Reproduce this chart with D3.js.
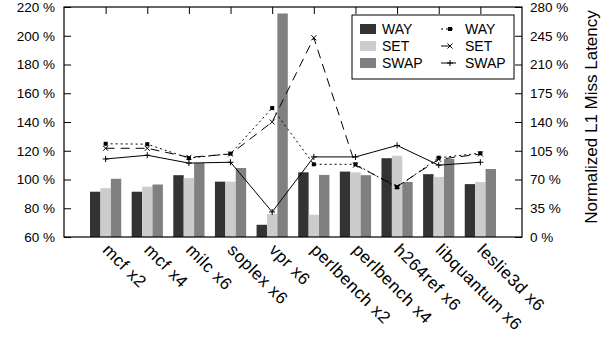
<!DOCTYPE html>
<html>
<head>
<meta charset="utf-8">
<script src="https://cdn.jsdelivr.net/npm/d3@7"></script>
<style>
  html, body { margin: 0; padding: 0; background: #fff; }
  svg { display: block; font-family: "Liberation Sans", Arial, Helvetica, sans-serif; }
</style>
</head>
<body>
<div id="chart"></div>
<script>
const categories = ['mcf x2', 'mcf x4', 'milc x6', 'soplex x6', 'vpr x6',
  'perlbench x2', 'perlbench x4', 'h264ref x6', 'libquantum x6', 'leslie3d x6']

// bars, left axis (%)
const wayBar = [91.5, 91.5, 103, 98.5, 68.5, 105, 105.5, 114.8, 103.7, 96.8]
const setBar = [94, 95, 101, 98.5, 76, 75.5, 105, 116.5, 101.8, 98.2]
const swapBar = [100.5, 96.5, 111.5, 108, 215.5, 103.2, 103, 98.3, 114.3, 107.3]

// lines, right axis: normalized L1 miss latency (%)
const wayLat = [113.5, 113, 96, 101.5, 157, 88.5, 88.5, 60.5, 96.5, 102]
const setLat = [108, 108, 97, 101, 140, 242.5, 87.5, 61.5, 94.5, 101]
const swapLat = [95, 99.5, 90, 91, 30.5, 97.5, 97.5, 111.5, 87.5, 91]

const leftTicks = [60, 80, 100, 120, 140, 160, 180, 200, 220]
const rightTicks = [0, 35, 70, 105, 140, 175, 210, 245, 280]

const W = 606, H = 341
const m = { left: 64, right: 522, top: 7, bottom: 237 }

const svg = d3.select('#chart').append('svg')
  .attr('width', W)
  .attr('height', H)

const x = d3.scaleLinear().domain([0, categories.length + 1]).range([m.left, m.right])
const yL = d3.scaleLinear().domain([60, 220]).range([m.bottom, m.top])
const yR = d3.scaleLinear().domain([0, 280]).range([m.bottom, m.top])

const barW = x(0.25) - x(0)
const barSeries = [
  { name: 'WAY', values: wayBar, color: '#333333' },
  { name: 'SET', values: setBar, color: '#cccccc' },
  { name: 'SWAP', values: swapBar, color: '#808080' },
]
const lineSeries = [
  { name: 'WAY', values: wayLat, dash: '2,3', marker: 'square' },
  { name: 'SET', values: setLat, dash: '9,6', marker: 'cross' },
  { name: 'SWAP', values: swapLat, dash: null, marker: 'plus' },
]

// Bars
barSeries.forEach((s, j) => {
  svg.append('g').selectAll('rect')
    .data(s.values)
    .enter().append('rect')
    .attr('x', (d, i) => x(i + 1) + (j - 1.5) * barW)
    .attr('y', d => yL(d))
    .attr('width', barW)
    .attr('height', d => yL(60) - yL(d))
    .attr('fill', s.color)
})

// Axes (ticks pointing inward)
const axisFont = g => g.selectAll('text')
  .attr('font-size', '13.5px')
  .attr('fill', '#000')
  .attr('font-family', '"Liberation Sans", Arial, sans-serif')

svg.append('g')
  .attr('transform', `translate(${m.left},0)`)
  .call(d3.axisLeft(yL).tickValues(leftTicks).tickSize(-7).tickPadding(9).tickFormat(d => `${d} %`))
  .call(g => g.select('.domain').remove())
  .call(axisFont)

svg.append('g')
  .attr('transform', `translate(${m.right},0)`)
  .call(d3.axisRight(yR).tickValues(rightTicks).tickSize(-7).tickPadding(8).tickFormat(d => `${d} %`))
  .call(g => g.select('.domain').remove())
  .call(axisFont)

svg.append('g')
  .attr('transform', `translate(0,${m.top})`)
  .call(d3.axisTop(x).tickValues(d3.range(1, categories.length + 1)).tickSize(-7).tickFormat(''))
  .call(g => g.select('.domain').remove())

// Frame
svg.append('rect')
  .attr('x', m.left).attr('y', m.top)
  .attr('width', m.right - m.left).attr('height', m.bottom - m.top)
  .attr('fill', 'none').attr('stroke', '#000').attr('stroke-width', 1.2)

// Lines
function drawMarker(g, type, cx, cy) {
  if (type === 'square') {
    g.append('rect').attr('x', cx - 2).attr('y', cy - 2).attr('width', 4).attr('height', 4).attr('fill', '#000')
  } else if (type === 'cross') {
    g.append('path').attr('d', `M${cx - 2.5},${cy - 2.5}L${cx + 2.5},${cy + 2.5}M${cx - 2.5},${cy + 2.5}L${cx + 2.5},${cy - 2.5}`)
      .attr('stroke', '#000').attr('stroke-width', 1)
  } else {
    g.append('path').attr('d', `M${cx - 3},${cy}L${cx + 3},${cy}M${cx},${cy - 3}L${cx},${cy + 3}`)
      .attr('stroke', '#000').attr('stroke-width', 1)
  }
}

const line = d3.line().x((d, i) => x(i + 1)).y(d => yR(d))
lineSeries.forEach(s => {
  const g = svg.append('g')
  g.append('path')
    .datum(s.values)
    .attr('d', line)
    .attr('fill', 'none')
    .attr('stroke', '#000')
    .attr('stroke-width', 1)
    .attr('stroke-dasharray', s.dash)
  s.values.forEach((d, i) => drawMarker(g, s.marker, x(i + 1), yR(d)))
})

// Category labels
svg.append('g').selectAll('text')
  .data(categories)
  .enter().append('text')
  .attr('transform', (d, i) => `translate(${x(i + 1) - 4},251) rotate(45)`)
  .attr('font-size', '17px')
  .attr('letter-spacing', '0.6px')
  .attr('text-anchor', 'start')
  .text(d => d)

// Right axis title
svg.append('text')
  .attr('transform', `translate(597,117) rotate(-90)`)
  .attr('text-anchor', 'middle')
  .attr('font-size', '17px')
  .text('Normalized L1 Miss Latency')

// Legend
const lg = svg.append('g')
lg.append('rect')
  .attr('x', 352).attr('y', 15).attr('width', 162).attr('height', 64)
  .attr('fill', '#fff').attr('stroke', '#000').attr('stroke-width', 1)
const rowY = [29, 46, 63]
barSeries.forEach((s, j) => {
  lg.append('rect').attr('x', 360).attr('y', rowY[j] - 5).attr('width', 16).attr('height', 10).attr('fill', s.color)
  lg.append('text').attr('x', 382).attr('y', rowY[j] + 5).attr('font-size', '14px').text(s.name)
})
lineSeries.forEach((s, j) => {
  lg.append('line').attr('x1', 441).attr('x2', 456).attr('y1', rowY[j]).attr('y2', rowY[j])
    .attr('stroke', '#000').attr('stroke-width', 1).attr('stroke-dasharray', s.dash)
  drawMarker(lg, s.marker, 450, rowY[j])
  lg.append('text').attr('x', 465).attr('y', rowY[j] + 5).attr('font-size', '14px').text(s.name)
})
</script>
</body>
</html>
